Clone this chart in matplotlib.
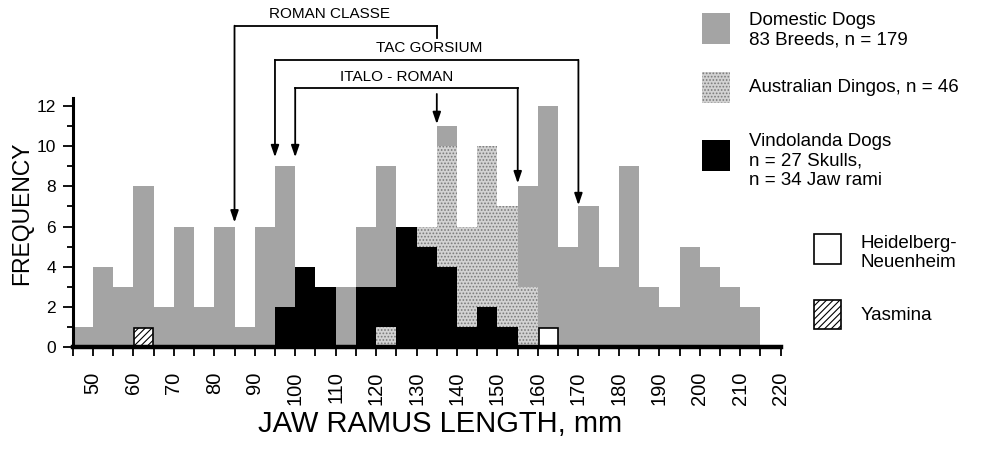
import numpy as np
import matplotlib
matplotlib.use("Agg")
import matplotlib.pyplot as plt
from matplotlib.patches import Rectangle
from matplotlib.ticker import MultipleLocator

plt.rcParams['font.family'] = ['Liberation Sans', 'DejaVu Sans']
plt.rcParams['hatch.linewidth'] = 0.8

# bins of 5 mm, left edges 45..215
bin_left = list(range(45, 220, 5))
domestic = [1, 4, 3, 8, 2, 6, 2, 6, 1, 6, 9, 0, 0, 3, 6, 9, 0, 0, 11, 0,
            0, 0, 8, 12, 5, 7, 4, 9, 3, 2, 5, 4, 3, 2, 0]
dingos = [0, 0, 0, 0, 0, 0, 0, 0, 0, 0, 0, 0, 0, 0, 0, 1, 0, 6, 10, 6,
          10, 7, 3, 0, 0, 0, 0, 0, 0, 0, 0, 0, 0, 0, 0]
vindolanda = [0, 0, 0, 0, 0, 0, 0, 0, 0, 0, 2, 4, 3, 0, 3, 3, 6, 5, 4, 1,
              2, 1, 0, 0, 0, 0, 0, 0, 0, 0, 0, 0, 0, 0, 0]
heidelberg = [0] * 23 + [1] + [0] * 11
yasmina = [0, 0, 0, 1] + [0] * 31
xtick_values = list(range(50, 221, 10))

styles = {
    'dom': dict(facecolor='#a4a4a4', edgecolor='none'),
    'dingo': dict(facecolor='#d2d2d2', edgecolor='#7a7a7a', hatch='.....', linewidth=0),
    'vind': dict(facecolor='black', edgecolor='none'),
    'heid': dict(facecolor='white', edgecolor='black', linewidth=1.2),
    'yas': dict(facecolor='white', edgecolor='black', hatch='/////', linewidth=1.2),
}

fig = plt.figure(figsize=(10.08, 4.53), dpi=100)
ax = fig.add_axes([0.0721, 0.234, 0.7024, 0.5497])

# overlapping histogram: in each bin the smaller count is drawn in front
for i, x0 in enumerate(bin_left):
    items = [(domestic[i], 'dom'), (dingos[i], 'dingo'), (vindolanda[i], 'vind'),
             (heidelberg[i], 'heid'), (yasmina[i], 'yas')]
    items = sorted([it for it in items if it[0] > 0], key=lambda t: -t[0])
    for z, (h, key) in enumerate(items):
        st = dict(styles[key])
        if key in ('heid', 'yas'):
            ax.bar(x0 + 0.15, h - 0.05, width=4.7, align='edge', zorder=2 + z, **st)
        else:
            ax.bar(x0, h, width=5, align='edge', zorder=2 + z, **st)

ax.set_xlim(45, 220)
ax.set_ylim(0, 12.4)
ax.spines['top'].set_visible(False)
ax.spines['right'].set_visible(False)
ax.spines['bottom'].set_linewidth(3.2)
ax.spines['left'].set_linewidth(2.2)
ax.spines['bottom'].set_zorder(20)
ax.spines['left'].set_zorder(20)

ax.set_xticks(xtick_values)
ax.set_xticks(list(range(45, 220, 10)), minor=True)
ax.tick_params(axis='x', which='both', length=6.7, width=1.3, direction='out')
ax.tick_params(axis='x', which='major', labelsize=14.5, pad=11)
ax.yaxis.set_major_locator(MultipleLocator(2))
ax.yaxis.set_minor_locator(MultipleLocator(1))
ax.tick_params(axis='y', which='major', length=7, width=1.3, labelsize=12.5, pad=5)
ax.tick_params(axis='y', which='minor', length=4, width=1.3)

fig.text(0.437, 1 - 424 / 453, 'JAW RAMUS LENGTH, mm', ha='center', va='center',
         fontsize=21)
fig.text(22 / 1008, 1 - 213 / 453, 'FREQUENCY', ha='center', va='center',
         rotation=90, fontsize=16.5)

# bracket annotations (data coordinates, above the axes)
lw = 1.3
arrow = dict(arrowstyle='-|>,head_length=0.7,head_width=0.24', lw=lw, color='black',
             shrinkA=0, shrinkB=0)


def down_arrow(x, y0, y1):
    ax.annotate('', xy=(x, y1), xytext=(x, y0), arrowprops=arrow,
                annotation_clip=False, zorder=30)


def hline(x0, x1, y):
    ax.plot([x0, x1], [y, y], color='black', lw=lw, clip_on=False, zorder=30)


# ROMAN CLASSE
hline(85, 135, 16.0)
down_arrow(85, 16.0, 6.2)
ax.plot([135, 135], [16.0, 15.4], color='black', lw=lw, clip_on=False)
down_arrow(135, 12.6, 11.1)
ax.text(108.5, 16.6, 'ROMAN CLASSE', ha='center', va='center', fontsize=11)

# TAC GORSIUM
hline(95, 170, 14.3)
down_arrow(95, 14.3, 9.45)
down_arrow(170, 14.3, 7.06)
ax.text(133, 14.9, 'TAC GORSIUM', ha='center', va='center', fontsize=11)

# ITALO - ROMAN
hline(100, 155, 12.9)
down_arrow(100, 12.9, 9.45)
down_arrow(155, 12.9, 8.15)
ax.text(125, 13.45, 'ITALO - ROMAN', ha='center', va='center', fontsize=11)

# legend drawn by hand
W, H = 1008.0, 453.0


def box(x0, y0, x1, y1, key):
    st = dict(styles[key])
    st.setdefault('linewidth', 0)
    fig.patches.append(Rectangle((x0 / W, 1 - y1 / H), (x1 - x0) / W, (y1 - y0) / H,
                                 transform=fig.transFigure, **st))


legend_entries = [
    ('dom', (702, 13, 730, 44), 'Domestic Dogs\n83 Breeds, n = 179', (749, 30)),
    ('dingo', (702, 72, 730, 103), 'Australian Dingos, n = 46', (749, 88)),
    ('vind', (702, 140, 730, 171), 'Vindolanda Dogs\nn = 27 Skulls,\nn = 34 Jaw rami', (749, 161)),
    ('heid', (814, 234, 841, 264), 'Heidelberg-\nNeuenheim', (861, 253)),
    ('yas', (814, 300, 841, 329), 'Yasmina', (861, 315)),
]
for key, (x0, y0, x1, y1), label, (tx, ty) in legend_entries:
    box(x0, y0, x1, y1, key)
    fig.text(tx / W, 1 - ty / H, label, ha='left', va='center', fontsize=13.5,
             linespacing=1.2)

# rotated x labels, top-aligned under the ticks (set after ticks exist)
fig.canvas.draw()
for lbl in ax.get_xticklabels():
    lbl.set_rotation(90)
    lbl.set_rotation_mode('default')
    lbl.set_horizontalalignment('center')
    lbl.set_verticalalignment('top')

fig.savefig('out.png', dpi=100)
